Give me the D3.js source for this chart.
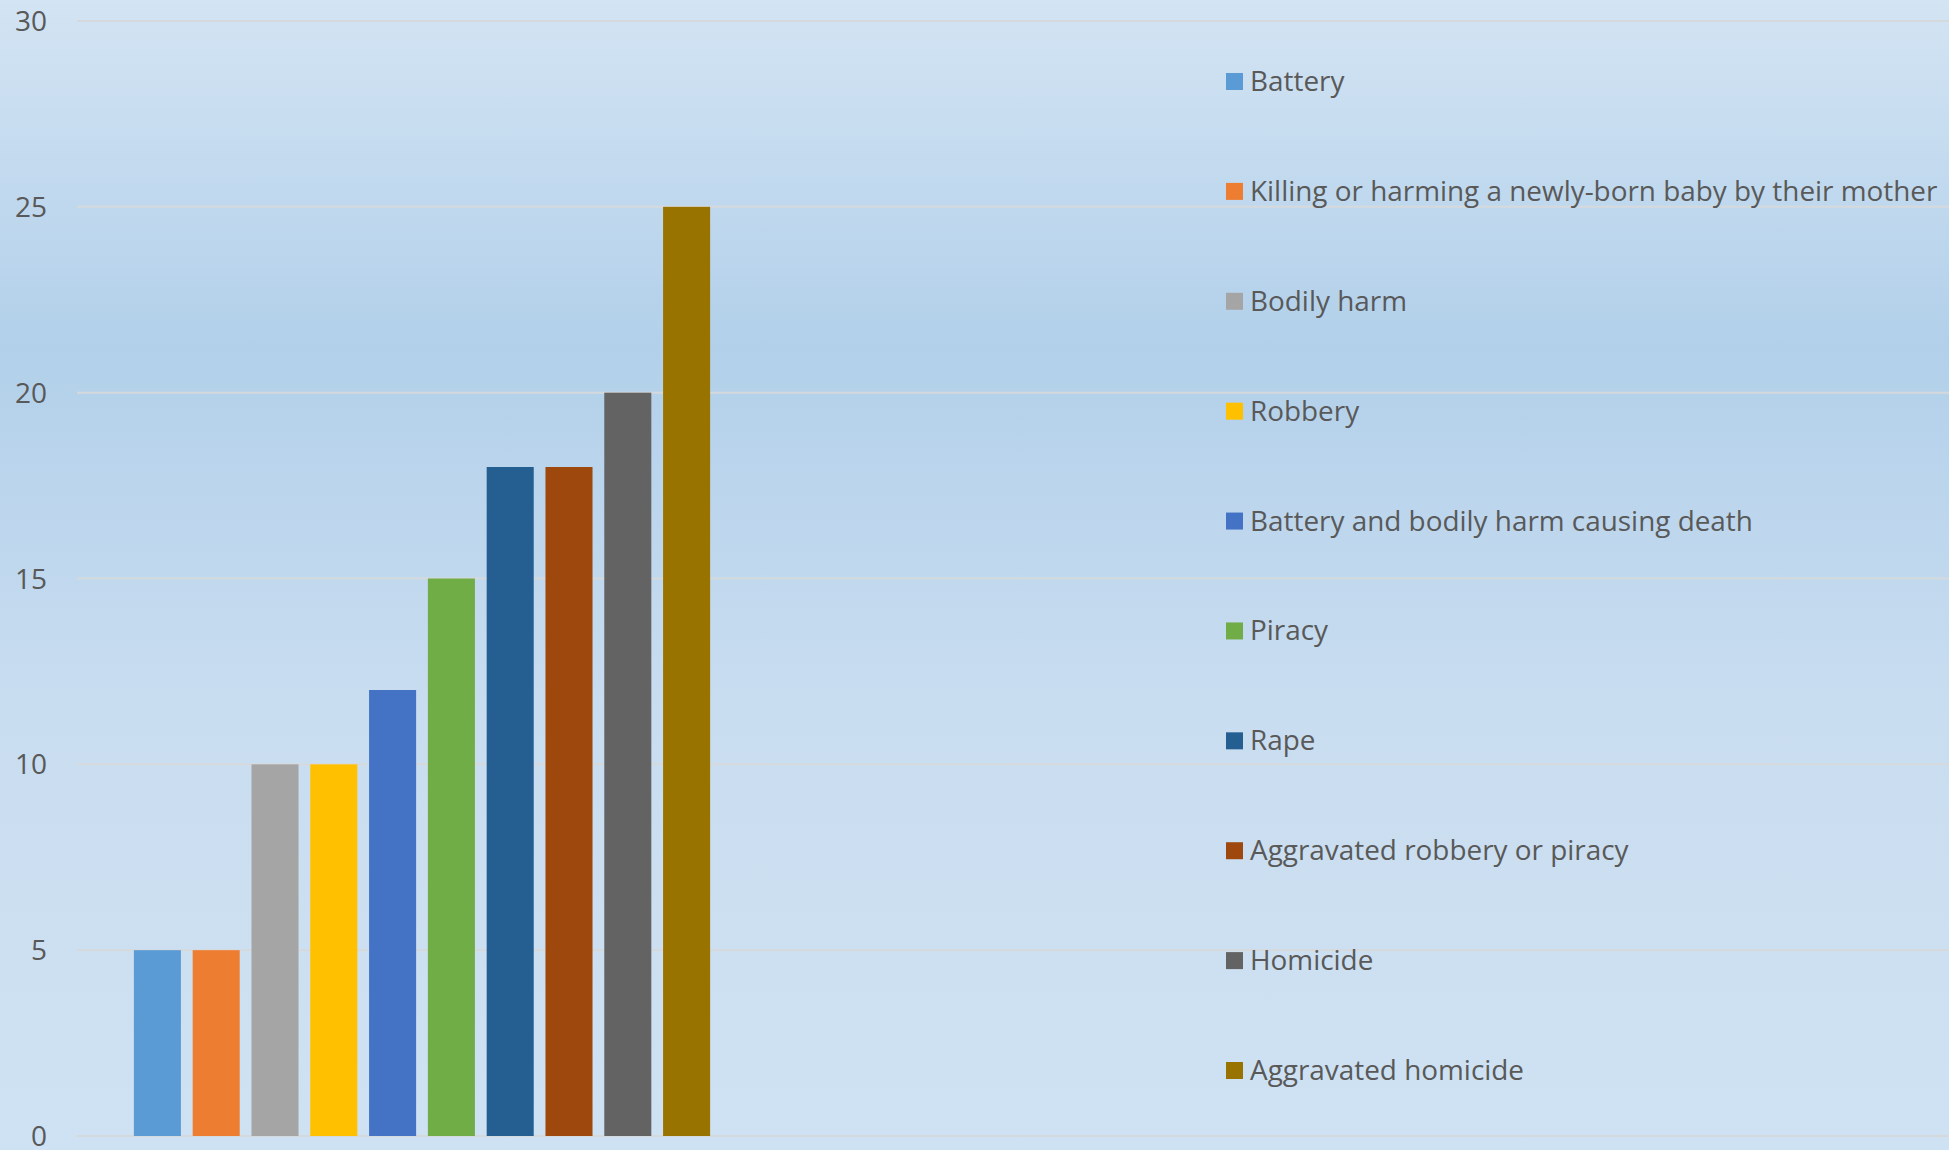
<!DOCTYPE html>
<html>
<head>
<meta charset="utf-8">
<script src="https://cdn.jsdelivr.net/npm/d3@7"></script>
<style>
  html, body { margin: 0; padding: 0; background: #cfe1f2; }
  svg { display: block; }
  text { font-family: "Open Sans", "Noto Sans", sans-serif; fill: #595959; }
</style>
</head>
<body>
<div id="chart"></div>
<script>
// crime categories (one bar each) and their values
const categories = [
    'Battery',
    'Killing or harming a newly-born baby by their mother',
    'Bodily harm',
    'Robbery',
    'Battery and bodily harm causing death',
    'Piracy',
    'Rape',
    'Aggravated robbery or piracy',
    'Homicide',
    'Aggravated homicide'
];
const values = [5, 5, 10, 10, 12, 15, 18, 18, 20, 25];
const colors = ['#5B9BD5', '#ED7D31', '#A5A5A5', '#FFC000', '#4472C4',
                '#70AD47', '#255E91', '#9E480E', '#636363', '#997300'];
const yTicks = [0, 5, 10, 15, 20, 25, 30];

const width = 1949, height = 1150;

const svg = d3.select('#chart')
    .append('svg')
    .attr('width', width)
    .attr('height', height);

// background gradient
const grad = svg.append('defs').append('linearGradient')
    .attr('id', 'bg')
    .attr('x1', 0).attr('y1', 0).attr('x2', 0).attr('y2', 1);
[[0, '#d3e4f3'], [0.3, '#b2d0ea'], [0.62, '#c9ddf0'], [1, '#cfe2f3']]
    .forEach(([o, c]) => grad.append('stop').attr('offset', o).attr('stop-color', c));

svg.append('rect')
    .attr('width', width).attr('height', height)
    .attr('fill', 'url(#bg)');

const y = d3.scaleLinear().domain([0, 30]).range([1136, 21]);
const x = d3.scaleBand()
    .domain(categories)
    .range([128, 716])
    .paddingInner(0.2)
    .paddingOuter(0.1);

// gridlines
svg.append('g')
    .selectAll('line')
    .data(yTicks)
    .join('line')
    .attr('x1', 77).attr('x2', width)
    .attr('y1', d => y(d)).attr('y2', d => y(d))
    .attr('stroke', '#d6d9dc')
    .attr('stroke-width', 2);

// y axis labels
svg.append('g')
    .selectAll('text')
    .data(yTicks)
    .join('text')
    .attr('x', 47)
    .attr('y', d => y(d))
    .attr('dy', '0.36em')
    .attr('text-anchor', 'end')
    .style('font-size', '28px')
    .text(d => d);

// bars
svg.append('g')
    .selectAll('rect')
    .data(categories)
    .join('rect')
    .attr('x', d => x(d))
    .attr('width', x.bandwidth())
    .attr('y', (d, i) => y(values[i]))
    .attr('height', (d, i) => y(0) - y(values[i]))
    .attr('fill', (d, i) => colors[i]);

// legend
const legendY = d3.scalePoint().domain(categories).range([81, 1070]);
const legend = svg.append('g')
    .selectAll('g')
    .data(categories)
    .join('g')
    .attr('transform', d => `translate(1226,${legendY(d)})`);

legend.append('rect')
    .attr('x', 0).attr('y', -8)
    .attr('width', 17).attr('height', 17)
    .attr('fill', (d, i) => colors[i]);

legend.append('text')
    .attr('x', 24)
    .attr('dy', '0.36em')
    .style('font-size', '27.9px')
    .text(d => d);
</script>
</body>
</html>
